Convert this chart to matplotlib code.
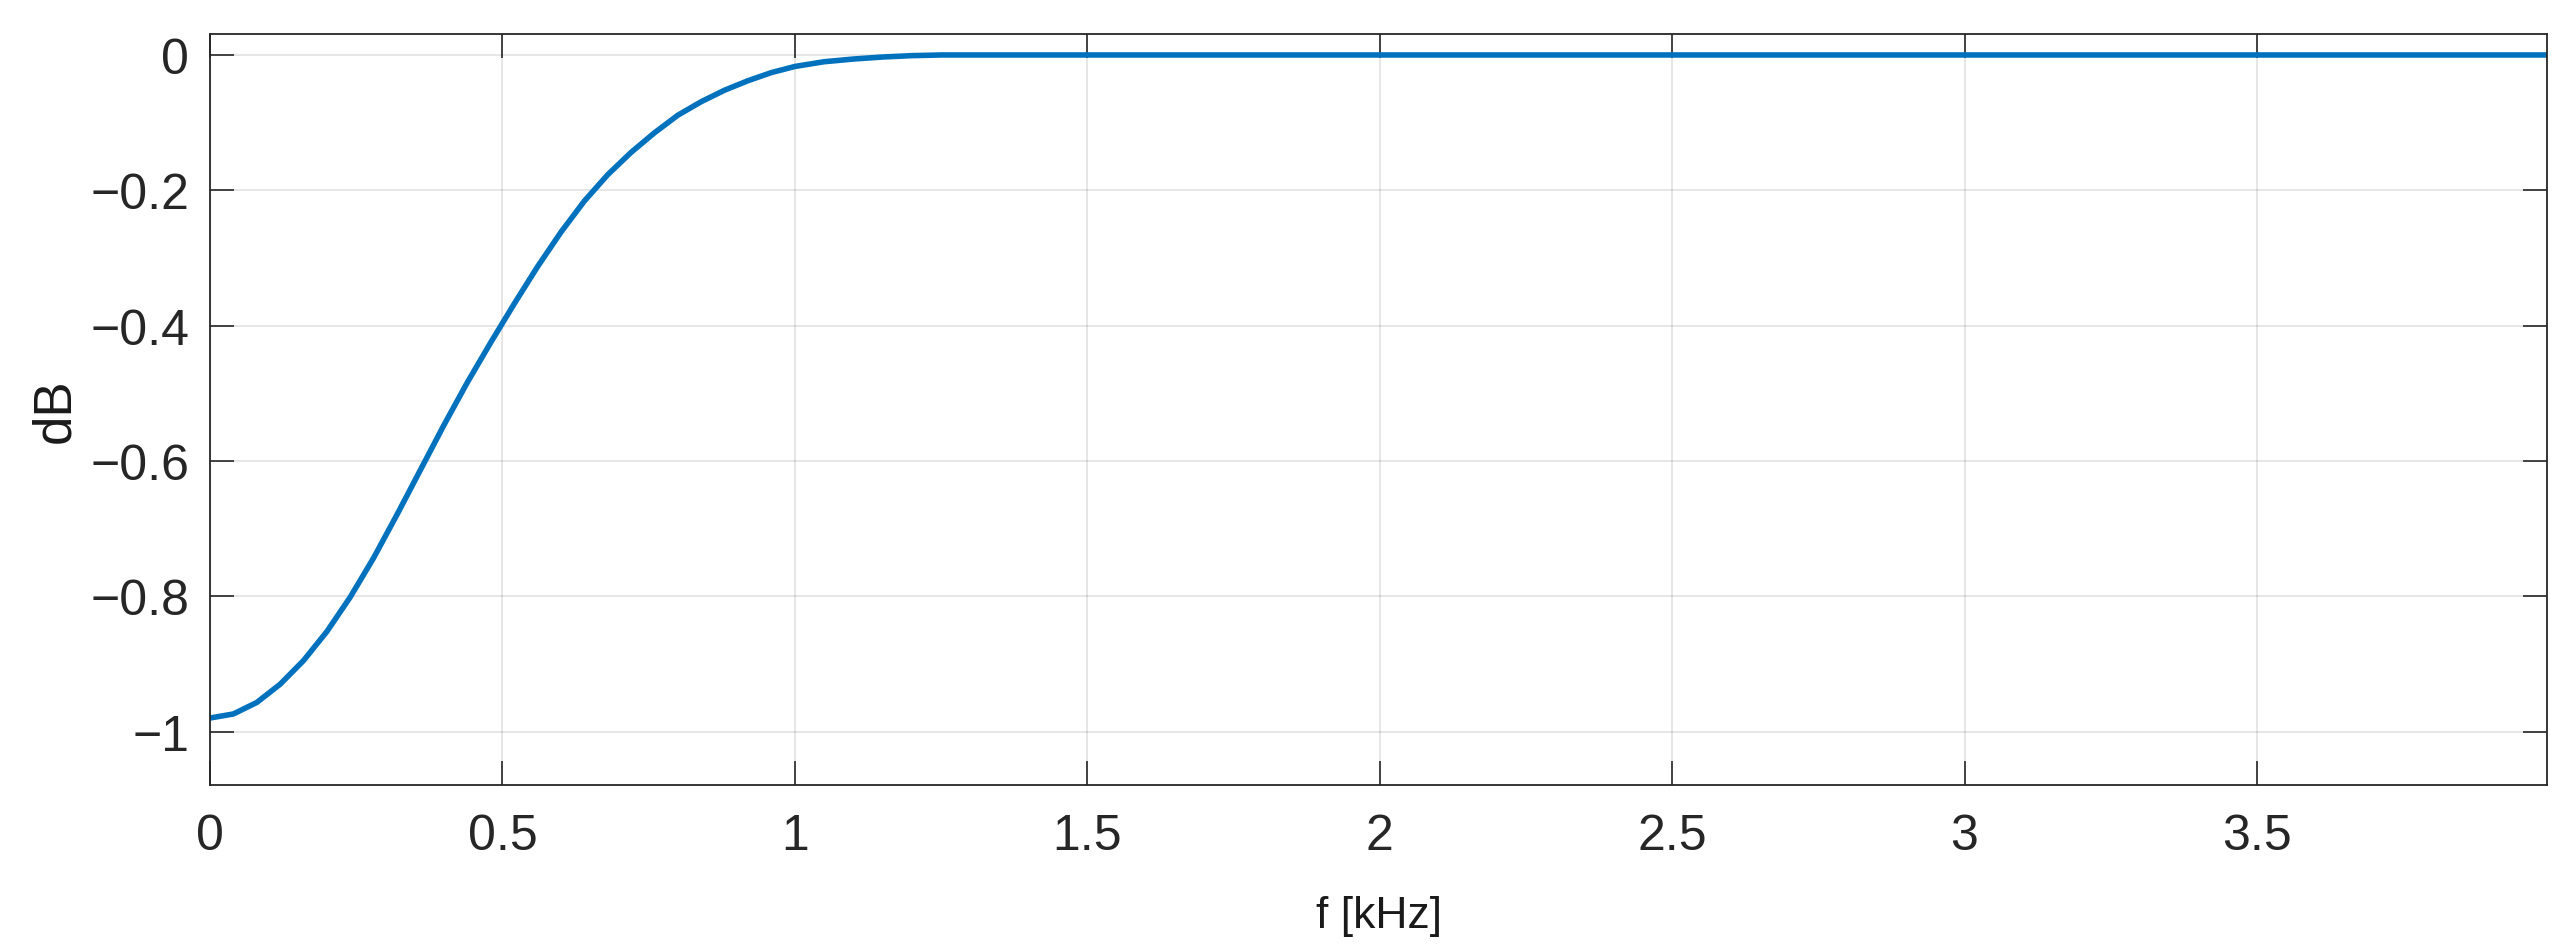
import matplotlib
matplotlib.use("Agg")
import matplotlib.pyplot as plt

# frequency response
f_khz = [0.00, 0.04, 0.08, 0.12, 0.16, 0.20, 0.24, 0.28, 0.32, 0.36,
         0.40, 0.44, 0.48, 0.52, 0.56, 0.60, 0.64, 0.68, 0.72, 0.76,
         0.80, 0.84, 0.88, 0.92, 0.96, 1.00, 1.05, 1.10, 1.15, 1.20,
         1.25, 3.996]
gain_db = [-0.980, -0.974, -0.957, -0.930, -0.895, -0.852, -0.801, -0.743, -0.679, -0.613,
           -0.547, -0.484, -0.425, -0.368, -0.313, -0.262, -0.216, -0.177, -0.144, -0.115,
           -0.089, -0.069, -0.052, -0.038, -0.026, -0.017, -0.010, -0.006, -0.003, -0.001,
           0.0, 0.0]

x_ticks = [0, 0.5, 1, 1.5, 2, 2.5, 3, 3.5]
x_tick_labels = ["0", "0.5", "1", "1.5", "2", "2.5", "3", "3.5"]
y_ticks = [-1, -0.8, -0.6, -0.4, -0.2, 0]
y_tick_labels = ["\u22121", "\u22120.8", "\u22120.6", "\u22120.4", "\u22120.2", "0"]

plt.rcParams['font.family'] = ['Liberation Sans', 'DejaVu Sans']

dark = '#262626'

fig = plt.figure(figsize=(25.68, 9.53), dpi=100)
ax = fig.add_axes([210 / 2568, 1 - 786 / 953, (2547 - 210) / 2568, (786 - 35) / 953])

ax.plot(f_khz, gain_db, color='#0072BD', linewidth=4.0, solid_capstyle='butt',
        solid_joinstyle='round')

ax.set_xlim(0, 3.996)
ax.set_ylim(-1.079, 0.031)

ax.set_xticks(x_ticks)
ax.set_xticklabels(x_tick_labels)
ax.set_yticks(y_ticks)
ax.set_yticklabels(y_tick_labels)

ax.grid(True, color=dark, alpha=0.15, linewidth=1.1)
ax.set_axisbelow(True)

for s in ax.spines.values():
    s.set_color(dark)
    s.set_linewidth(1.3)

ax.tick_params(axis='both', direction='in', length=17.5, width=1.2, color=dark,
               labelcolor=dark, labelsize=36, top=True, right=True)
ax.tick_params(axis='x', pad=20)
ax.tick_params(axis='y', pad=15)

ax.set_xlabel("f [kHz]", fontsize=32, color='#1a1a1a', va='center')
ax.xaxis.set_label_coords(0.5, (786 - 917) / (786 - 35))
ax.set_ylabel("dB", fontsize=38, color='#1a1a1a', va='center')
ax.yaxis.set_label_coords((55 - 210) / (2547 - 210), 0.5)

fig.savefig("out.png", dpi=100)
